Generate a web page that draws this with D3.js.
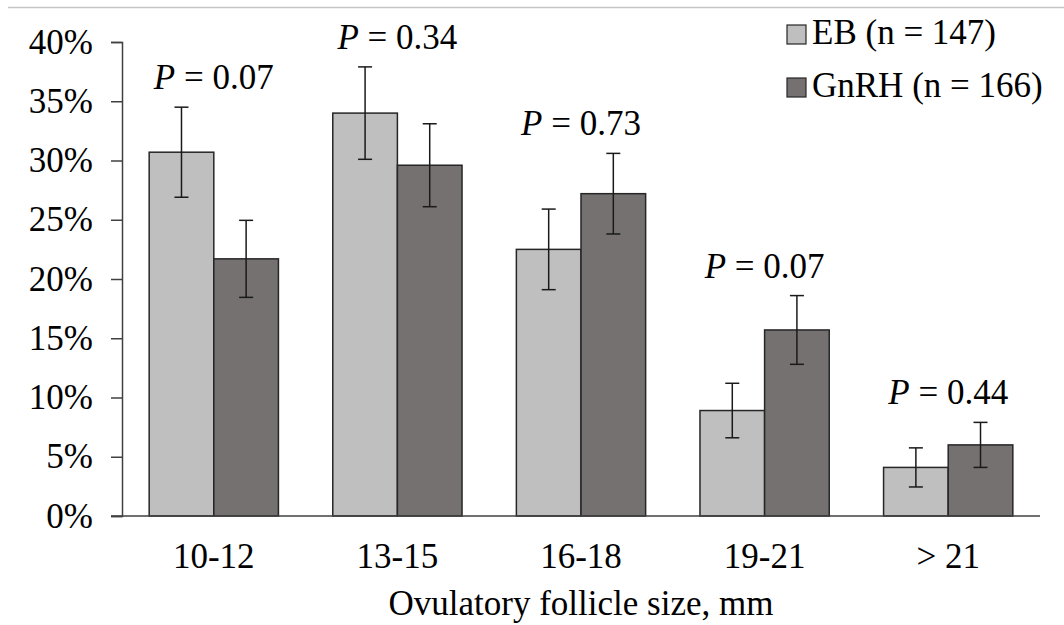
<!DOCTYPE html>
<html>
<head>
<meta charset="utf-8">
<script src="https://cdn.jsdelivr.net/npm/d3@7"></script>
<style>
  body { margin: 0; background: #fff; }
  svg { display: block; }
  svg text { font-family: 'Liberation Serif', 'Times New Roman', Times, 'DejaVu Serif', serif; }
</style>
</head>
<body>
<div id="chart"></div>
<script>
// follicle size classes
const categories = ['10-12', '13-15', '16-18', '19-21', '> 21'];
const groups = ['EB (n = 147)', 'GnRH (n = 166)'];
const ebValues = [30.7, 34.0, 22.5, 8.9, 4.1];
const ebErrors = [3.8, 3.9, 3.4, 2.3, 1.65];
const gnrhValues = [21.7, 29.6, 27.2, 15.7, 6.0];
const gnrhErrors = [3.25, 3.5, 3.4, 2.9, 1.9];
const pLabels = ['0.07', '0.34', '0.73', '0.07', '0.44'];
const yTicks = [0, 5, 10, 15, 20, 25, 30, 35, 40];

const width = 1064, height = 625;
const margin = { top: 42, right: 24, bottom: 109, left: 122 };
const colors = ['#bfbfbf', '#767171'];
const fs = 35;

const svg = d3.select('#chart')
  .append('svg')
  .attr('width', width)
  .attr('height', height);

// thin grey frame line on top
svg.append('line')
  .attr('x1', 8).attr('x2', width)
  .attr('y1', 7.5).attr('y2', 7.5)
  .attr('stroke', '#c6c6c6')
  .attr('stroke-width', 1.5);

const x0 = d3.scaleBand()
  .domain(categories)
  .range([margin.left, width - margin.right])
  .paddingInner(0.296)
  .paddingOuter(0.148);

const x1 = d3.scaleBand()
  .domain([0, 1])
  .range([0, x0.bandwidth()]);

const y = d3.scaleLinear()
  .domain([0, 40])
  .range([height - margin.bottom, margin.top]);

const rows = categories.map((c, i) => ({
  cat: c,
  p: pLabels[i],
  bars: [
    { s: 0, v: ebValues[i], e: ebErrors[i] },
    { s: 1, v: gnrhValues[i], e: gnrhErrors[i] }
  ]
}));

// y axis
const yAxis = svg.append('g')
  .attr('transform', `translate(${margin.left},0)`)
  .call(d3.axisLeft(y).tickValues(yTicks).tickSize(11).tickPadding(18).tickFormat(d => d + '%'));
yAxis.attr('font-family', null);
yAxis.select('.domain').attr('stroke', '#404040').attr('stroke-width', 1.5);
yAxis.selectAll('.tick line').attr('stroke', '#404040').attr('stroke-width', 1.5);
yAxis.selectAll('.tick text')
  .attr('font-size', fs)
  .attr('fill', '#000');

// bars
const grp = svg.selectAll('g.grp')
  .data(rows)
  .join('g')
  .attr('class', 'grp')
  .attr('transform', d => `translate(${x0(d.cat)},0)`);

grp.selectAll('rect')
  .data(d => d.bars)
  .join('rect')
  .attr('x', d => x1(d.s))
  .attr('y', d => y(d.v))
  .attr('width', x1.bandwidth())
  .attr('height', d => y(0) - y(d.v))
  .attr('fill', d => colors[d.s])
  .attr('stroke', '#262626')
  .attr('stroke-width', 1.5);

// error bars
const eb = grp.selectAll('g.err')
  .data(d => d.bars)
  .join('g')
  .attr('class', 'err')
  .attr('stroke', '#1a1a1a')
  .attr('stroke-width', 1.5);
eb.append('line')
  .attr('x1', d => x1(d.s) + x1.bandwidth() / 2)
  .attr('x2', d => x1(d.s) + x1.bandwidth() / 2)
  .attr('y1', d => y(d.v + d.e))
  .attr('y2', d => y(d.v - d.e));
eb.selectAll('line.cap')
  .data(d => [{ s: d.s, v: d.v + d.e }, { s: d.s, v: d.v - d.e }])
  .join('line')
  .attr('class', 'cap')
  .attr('x1', d => x1(d.s) + x1.bandwidth() / 2 - 7)
  .attr('x2', d => x1(d.s) + x1.bandwidth() / 2 + 7)
  .attr('y1', d => y(d.v))
  .attr('y2', d => y(d.v));

// x axis line
svg.append('line')
  .attr('x1', margin.left - 11).attr('x2', width - margin.right)
  .attr('y1', y(0)).attr('y2', y(0))
  .attr('stroke', '#404040')
  .attr('stroke-width', 1.5);

// category labels
svg.selectAll('text.cat')
  .data(categories)
  .join('text')
  .attr('class', 'cat')
  .attr('x', d => x0(d) + x0.bandwidth() / 2)
  .attr('y', 568)
  .attr('text-anchor', 'middle')
  .attr('font-size', fs)
  .text(d => d);

// P value labels above the taller bar of each pair
const pText = svg.selectAll('text.pval')
  .data(rows)
  .join('text')
  .attr('class', 'pval')
  .attr('x', d => x0(d.cat) + x0.bandwidth() / 2)
  .attr('y', d => y(d3.max(d.bars, b => b.v + b.e)) - 18)
  .attr('text-anchor', 'middle')
  .attr('font-size', fs);
pText.append('tspan').attr('font-style', 'italic').text('P');
pText.append('tspan').text(d => ' = ' + d.p);

// axis title
svg.append('text')
  .attr('x', x0.range()[0] + (x0.range()[1] - x0.range()[0]) / 2)
  .attr('y', 615)
  .attr('text-anchor', 'middle')
  .attr('font-size', fs)
  .text('Ovulatory follicle size, mm');

// legend
const leg = svg.selectAll('g.leg')
  .data(groups)
  .join('g')
  .attr('class', 'leg')
  .attr('transform', (d, i) => `translate(787,${25 + i * 53})`);
leg.append('rect')
  .attr('width', 19)
  .attr('height', 19)
  .attr('fill', (d, i) => colors[i])
  .attr('stroke', '#262626')
  .attr('stroke-width', 1.2);
leg.append('text')
  .attr('x', 25)
  .attr('y', 19)
  .attr('font-size', fs)
  .text(d => d);
</script>
</body>
</html>
